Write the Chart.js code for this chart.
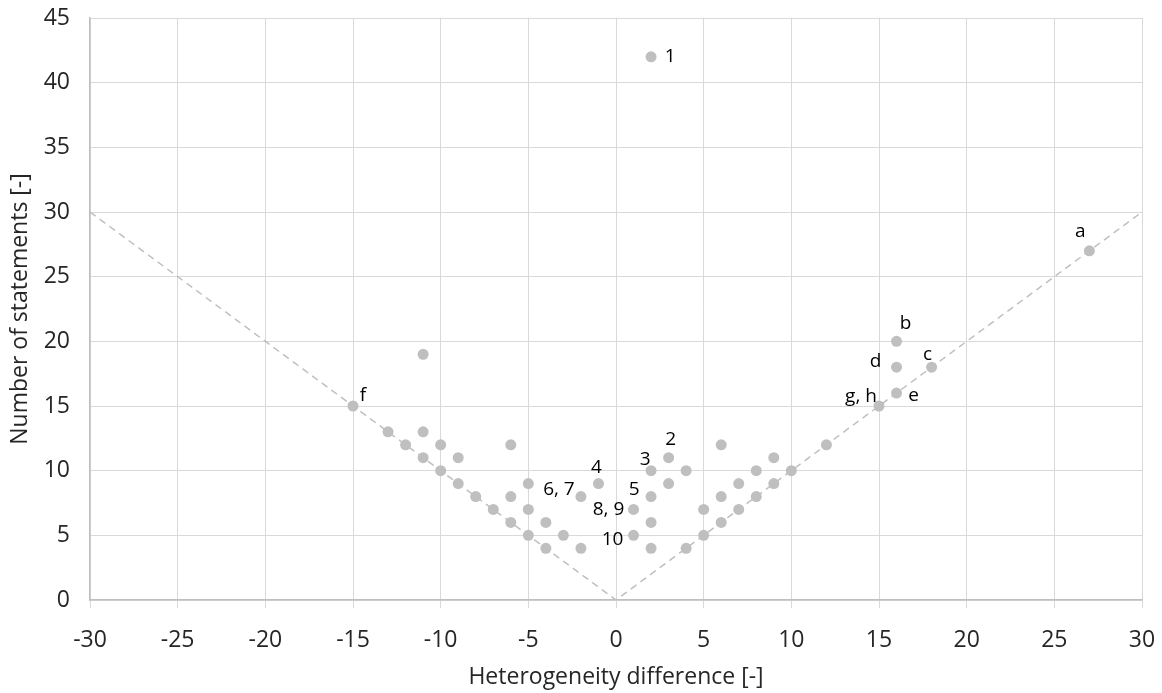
<!DOCTYPE html>
<html>
<head>
<meta charset="utf-8">
<script src="https://cdn.jsdelivr.net/npm/chart.js@4"></script>
<style>
  html, body { margin: 0; padding: 0; background: #fff; }
  #wrap { width: 1162px; height: 693px; }
</style>
</head>
<body>
<div id="wrap"><canvas id="myScatter"></canvas></div>
<script>
// statements: heterogeneity difference (x) vs number of statements (y)
var diffValues = [-15, -13, -11, -12, -10, -6, -11, -9, -10, -9, -8, -7, -6, -5, -6, -5, -4, -5, -3, -4, -2, -2, -1, -11,
                  2, 3, 2, 4, 3, 2, 1, 2, 1, 2, 4, 5, 5, 6, 6, 6, 7, 7, 8, 8, 9, 9, 10, 12, 15, 16, 16, 18, 16, 27];
var countValues = [15, 13, 13, 12, 12, 12, 11, 11, 10, 9, 8, 7, 8, 9, 6, 7, 6, 5, 5, 4, 4, 8, 9, 19,
                   42, 11, 10, 10, 9, 8, 7, 6, 5, 4, 4, 5, 7, 6, 8, 12, 7, 9, 8, 10, 9, 11, 10, 12, 15, 16, 18, 18, 20, 27];

// reference line |x| = y
var refX = [-30, 0, 30];
var refY = [30, 0, 30];

// annotated points
var labelText = ['1', 'a', 'b', 'c', 'd', 'e', 'f', 'g, h', '2', '3', '4', '6, 7', '5', '8, 9', '10'];
var labelX = [2, 27, 16, 18, 16, 16, -15, 15, 3, 2, -1, -2, 2, 1, 1];
var labelY = [42, 27, 20, 18, 18, 16, 15, 15, 11, 10, 9, 8, 8, 7, 5];

var xTicks = [-30, 30, 5];
var yTicks = [0, 45, 5];

// pixel offsets of each label from its point
var labelOffsets = [[19, 0], [-9, -19], [9, -18], [-4, -13], [-21, -6], [17, 3], [10, -10], [-18, -9],
                    [2, -18], [-6, -11], [-2, -16], [-22, -7], [-17, -7], [-25, 0], [-21, 4]];

var points = diffValues.map(function (x, i) { return { x: x, y: countValues[i] }; });
var refLine = refX.map(function (x, i) { return { x: x, y: refY[i] }; });

var FONT = "'Segoe UI', 'Open Sans', 'Noto Sans', sans-serif";
var TEXT = '#262626';
var AXIS_PX = 23;

var pointLabels = {
  id: 'pointLabels',
  afterDatasetsDraw: function (chart) {
    var c = chart.ctx;
    var xs = chart.scales.x, ys = chart.scales.y;
    c.save();
    c.font = '19px ' + FONT;
    c.fillStyle = '#000';
    c.textAlign = 'center';
    c.textBaseline = 'middle';
    labelText.forEach(function (t, i) {
      var px = xs.getPixelForValue(labelX[i]) + labelOffsets[i][0];
      var py = ys.getPixelForValue(labelY[i]) + labelOffsets[i][1];
      c.fillText(t, px, py);
    });
    c.restore();
  }
};

// x tick labels, placed a fixed distance under the axis (baseline 47px below it)
var xTickLabels = {
  id: 'xTickLabels',
  afterDraw: function (chart) {
    var c = chart.ctx;
    var xs = chart.scales.x;
    c.save();
    c.font = AXIS_PX + 'px ' + FONT;
    c.fillStyle = TEXT;
    c.textAlign = 'center';
    c.textBaseline = 'alphabetic';
    xs.ticks.forEach(function (t) {
      c.fillText(String(t.value), xs.getPixelForValue(t.value), xs.top + 47);
    });
    c.restore();
  }
};

var ctx = document.getElementById('myScatter').getContext('2d');
var myScatter = new Chart(ctx, {
  type: 'scatter',
  data: {
    datasets: [{
      label: 'statements',
      data: points,
      backgroundColor: '#BFBFBF',
      borderColor: '#BFBFBF',
      borderWidth: 0,
      pointRadius: 5.5,
      pointHoverRadius: 5.5,
      order: 1
    }, {
      label: '|x| = y',
      data: refLine,
      showLine: true,
      borderColor: '#BFBFBF',
      borderWidth: 1.5,
      borderDash: [7, 5],
      pointRadius: 0,
      fill: false,
      order: 2
    }]
  },
  options: {
    responsive: true,
    maintainAspectRatio: false,
    animation: false,
    layout: {
      padding: { left: 0, right: 20, top: 18, bottom: 0 }
    },
    plugins: {
      legend: { display: false },
      tooltip: { enabled: false }
    },
    scales: {
      x: {
        type: 'linear',
        position: 'bottom',
        min: xTicks[0],
        max: xTicks[1],
        afterFit: function (s) {
          s.height = 93;
          s.paddingLeft = 0;
          s.paddingRight = 0;
        },
        ticks: {
          stepSize: xTicks[2],
          display: false
        },
        grid: { color: '#D9D9D9', lineWidth: 1, tickLength: 8, tickColor: '#D9D9D9' },
        border: { color: '#BFBFBF', width: 1.5 },
        title: {
          display: true,
          text: 'Heterogeneity difference [-]',
          color: TEXT,
          font: { family: FONT, size: AXIS_PX },
          padding: { top: 2, bottom: 2 }
        }
      },
      y: {
        type: 'linear',
        position: 'left',
        min: yTicks[0],
        max: yTicks[1],
        afterFit: function (s) {
          s.width = 90;
          s.paddingTop = 0;
          s.paddingBottom = 0;
        },
        ticks: {
          stepSize: yTicks[2],
          color: TEXT,
          font: { family: FONT, size: AXIS_PX },
          padding: 20
        },
        grid: { color: '#D9D9D9', lineWidth: 1, drawTicks: false },
        border: { color: '#BFBFBF', width: 1.5 },
        title: {
          display: true,
          text: 'Number of statements [-]',
          color: TEXT,
          font: { family: FONT, size: AXIS_PX },
          padding: { top: 7, bottom: 0 }
        }
      }
    }
  },
  plugins: [pointLabels, xTickLabels]
});
</script>
</body>
</html>
